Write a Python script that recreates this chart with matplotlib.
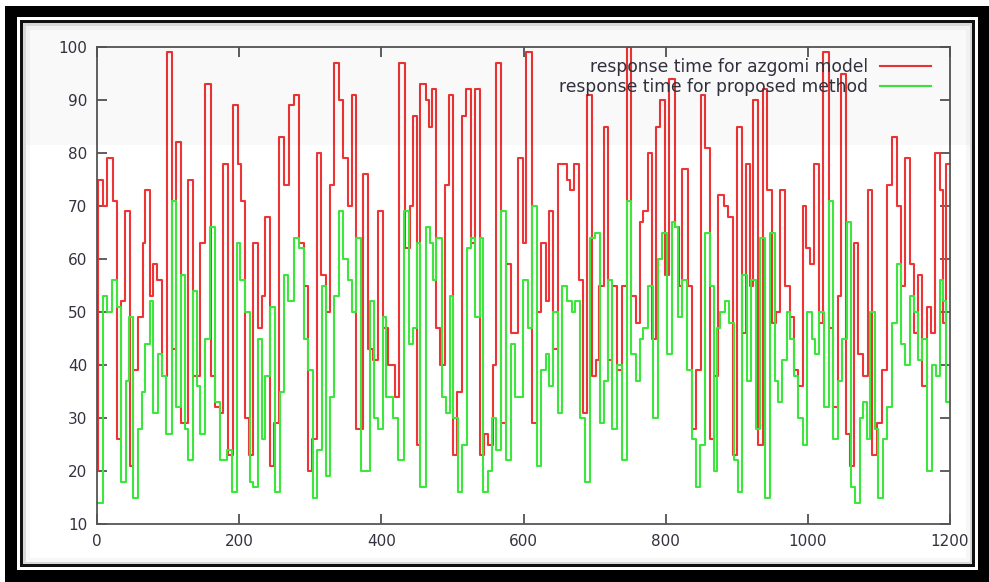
import matplotlib
matplotlib.use("Agg")
import matplotlib.pyplot as plt
from matplotlib.patches import Rectangle

# ---- data (step breakpoints) ----
red_x = [0, 2, 9, 14.5, 22, 27.7, 33.3, 39.4, 46.4, 51, 58, 65, 67.5, 74.5, 79, 84, 91, 98, 105, 111,
         117.7, 128.5, 135.5, 145, 152, 160, 166, 173, 177.7, 184.7, 191.7, 198, 202.4, 208, 213.7, 219.8,
         226, 231.5, 237, 243, 249, 256, 263, 270, 277.5, 284, 291.5, 297, 303, 309, 315, 321.6, 327.7,
         333.8, 340, 346.4, 353.5, 359, 365, 374.6, 381.6, 388.6, 395.7, 402.7, 409.7, 419, 425, 433, 440,
         445, 450.5, 455, 462.7, 467.4, 470.7, 476.8, 482.4, 489.5, 495.6, 501, 507, 513, 519, 525.6,
         531.7, 538.7, 544, 550, 557.5, 562, 569, 576, 583, 592.6, 598.7, 604, 612.3, 618.4, 624.5, 631,
         635.8, 642, 648, 660.6, 665.3, 671.4, 678, 684, 688.8, 695.8, 701.4, 706, 713.6, 719, 725, 731,
         738, 745, 751, 757.7, 763.8, 768.5, 774.6, 781, 785.8, 792, 799, 805, 813, 818.7, 823.4, 831,
         836.5, 842, 849.7, 856, 862, 868.4, 874, 882.5, 887, 895, 900, 907, 913, 918.6, 923, 930, 937,
         943, 949, 955, 960.8, 967.8, 975, 980.5, 986.6, 993.6, 998, 1003, 1008.6, 1015.6, 1021.7, 1029.7,
         1035.8, 1042.8, 1046.6, 1053, 1059, 1065, 1071, 1078, 1085, 1090.7, 1096.8, 1103.8, 1110.8,
         1117.9, 1125, 1131, 1136.6, 1143.7, 1149.8, 1155.4, 1161, 1167, 1173, 1179, 1186, 1190.6, 1195]
red_y = [20, 75, 70, 79, 71, 26, 52, 69, 21, 39, 49, 63, 73, 53, 59, 56, 38, 99, 43, 82,
         29, 75, 38, 63, 93, 38, 32, 31, 78, 23, 89, 78, 71, 30, 23, 63,
         47, 53, 68, 21, 29, 83, 74, 89, 91, 63, 55, 20, 26, 80, 57, 50, 74,
         97, 90, 79, 70, 91, 28, 76, 43, 41, 69, 47, 40, 34, 97, 62, 70,
         87, 25, 93, 90, 85, 92, 47, 40, 74, 91, 23, 35, 87, 92, 63,
         92, 23, 27, 25, 40, 97, 29, 59, 46, 79, 63, 99, 29, 50, 63, 52,
         69, 43, 78, 75, 73, 78, 56, 31, 91, 38, 41, 55, 85, 41, 55, 39,
         55, 100, 53, 48, 67, 69, 80, 45, 85, 90, 57, 94, 66, 55, 77, 55,
         28, 39, 91, 81, 26, 38, 72, 70, 68, 23, 85, 46, 78, 55, 90, 25, 92,
         73, 48, 50, 73, 55, 49, 39, 36, 70, 62, 59, 78, 48, 99, 47,
         32, 53, 95, 27, 21, 63, 42, 38, 73, 23, 29, 39, 74,
         83, 70, 55, 79, 59, 46, 57, 36, 51, 46, 80, 73, 48, 78]

green_x = [0, 8, 14.6, 20.7, 27.7, 33.3, 40.9, 45.5, 51, 58, 62.9, 67.6, 74.6, 79.3, 86.3, 91, 97, 105,
           111, 117.8, 123.9, 128.6, 134.7, 140, 145, 152, 159, 166, 173, 182.5, 189.5, 196.6, 201, 208,
           215, 219.8, 226, 231.5, 237, 243, 250, 257, 263, 269, 277.5, 284, 291.5, 297, 304, 310, 316,
           321.6, 327.7, 333.8, 340, 346.4, 353.5, 359, 365, 372, 384, 390, 395.7, 402.7, 406.4, 416.8,
           423.8, 431.8, 439.3, 445, 450.5, 455, 462.7, 468, 472, 476.8, 484.8, 491, 496.5, 501, 508, 514,
           520, 525.6, 531.7, 538.7, 543.4, 550.4, 555, 562, 569, 576, 583, 588, 599.7, 606.7, 612.3,
           618.4, 624.5, 631, 635.8, 642, 648, 654.5, 660.6, 667.7, 672.4, 679.4, 686.4, 693.5, 700.5,
           707.5, 713.6, 719, 725, 731, 738, 745, 751, 757.7, 763.8, 768.5, 775.5, 782.6, 788.7, 794.3,
           801.3, 808.4, 813, 817.7, 822.4, 829.5, 836.5, 842.6, 849, 855, 862, 868, 871.7, 876, 883.4,
           889.5, 896, 902, 907, 914, 919.5, 927, 932.6, 939.7, 946.7, 953.7, 958.4, 963, 970, 974.8,
           980.5, 986.6, 992.7, 998.3, 1005.3, 1010, 1016, 1023, 1029.7, 1035.8, 1042, 1047.5, 1054.5,
           1060.7, 1066, 1073, 1078, 1082.7, 1087.4, 1094.4, 1099, 1106, 1112, 1119, 1125, 1131, 1136.6,
           1143.7, 1149.8, 1155.4, 1161, 1167, 1174, 1179.8, 1186, 1190.6, 1195]
green_y = [14, 53, 50, 56, 51, 18, 37, 49, 15, 28, 35, 44, 52, 31, 42, 38, 27, 71,
           32, 57, 28, 22, 54, 36, 27, 45, 66, 33, 22, 24, 16, 63, 56, 50,
           18, 17, 45, 26, 38, 51, 16, 35, 57, 52, 64, 62, 45, 39, 15, 24, 55,
           19, 34, 53, 69, 60, 56, 50, 64, 20, 52, 30, 28, 49, 34, 30,
           22, 69, 44, 47, 63, 17, 66, 63, 56, 64, 34, 31, 53, 30, 16, 25,
           62, 64, 49, 64, 16, 20, 30, 24, 69, 22, 44, 34, 56, 47, 70,
           21, 39, 42, 36, 50, 31, 55, 52, 50, 52, 30, 18, 64, 65,
           29, 37, 56, 28, 40, 22, 71, 42, 37, 45, 47, 55, 30, 60, 65,
           42, 67, 66, 49, 56, 39, 26, 17, 25, 65, 55, 20, 47, 50, 52,
           48, 22, 16, 57, 37, 56, 28, 64, 15, 65, 37, 33, 41, 50, 45,
           38, 30, 25, 50, 45, 42, 50, 32, 71, 26, 37, 45, 67,
           17, 14, 30, 33, 26, 50, 28, 15, 26, 32, 48, 59, 44, 40,
           53, 50, 41, 45, 20, 40, 38, 56, 52, 33]

x_end = 1200
y_ticks = [10, 20, 30, 40, 50, 60, 70, 80, 90, 100]
x_ticks = [0, 200, 400, 600, 800, 1000, 1200]
labels = ["response time for azgomi model", "response time for proposed method"]

# ---- figure ----
W, H = 989, 582
fig = plt.figure(figsize=(W / 100, H / 100), dpi=100)
fig.patch.set_facecolor("white")

def px_rect(x0, y0, x1, y1, **kw):
    r = Rectangle((x0 / W, 1 - y1 / H), (x1 - x0) / W, (y1 - y0) / H,
                  transform=fig.transFigure, **kw)
    fig.patches.append(r)
    return r

# frame: thick outer black, white gap, thin inner black line, soft shadow
px_rect(5, 6, 989, 582, facecolor="black", edgecolor="none", zorder=-10)
px_rect(17, 17, 978, 570, facecolor="white", edgecolor="none", zorder=-9)
px_rect(20, 20, 975, 567, facecolor="#111111", edgecolor="none", zorder=-8)
px_rect(23, 23, 972, 564, facecolor="#d8d8d8", edgecolor="none", zorder=-7)
px_rect(26, 26, 970, 562, facecolor="#f7f7f7", edgecolor="none", zorder=-6)
px_rect(30, 30, 966, 558, facecolor="white", edgecolor="none", zorder=-5)

ax = fig.add_axes([97 / W, 1 - 524 / H, (950 - 97) / W, (524 - 47) / H])
ax.set_facecolor("white")

xr = list(red_x) + [x_end]
yr = list(red_y) + [red_y[-1]]
xg = list(green_x) + [x_end]
yg = list(green_y) + [green_y[-1]]

ax.plot(xr, yr, drawstyle="steps-post", color="#ee3434", lw=1.5, label=labels[0])
ax.plot(xg, yg, drawstyle="steps-post", color="#3de63d", lw=1.5, label=labels[1])

ax.set_xlim(0, 1200)
ax.set_ylim(10, 100)
ax.set_xticks(x_ticks)
ax.set_yticks(y_ticks)
ax.tick_params(direction="in", length=7, width=1.2, colors="#444444", labelcolor="#333340",
               labelsize=11, top=True, right=True, pad=7)
for s in ax.spines.values():
    s.set_color("#555555")
    s.set_linewidth(1.3)

leg = ax.legend(loc="upper right", bbox_to_anchor=(1 - 10 / 853, 1 - 2 / 477), frameon=False,
                markerfirst=False, fontsize=12.3, handlelength=3.0, handletextpad=0.7,
                labelspacing=0.15, borderpad=0.2, borderaxespad=0.3)
for t in leg.get_texts():
    t.set_color("#333340")

# glossy highlight band over the upper part
px_rect(26, 26, 970, 145, facecolor="black", alpha=0.022, edgecolor="none", zorder=5)

fig.savefig("out.png", dpi=100)
